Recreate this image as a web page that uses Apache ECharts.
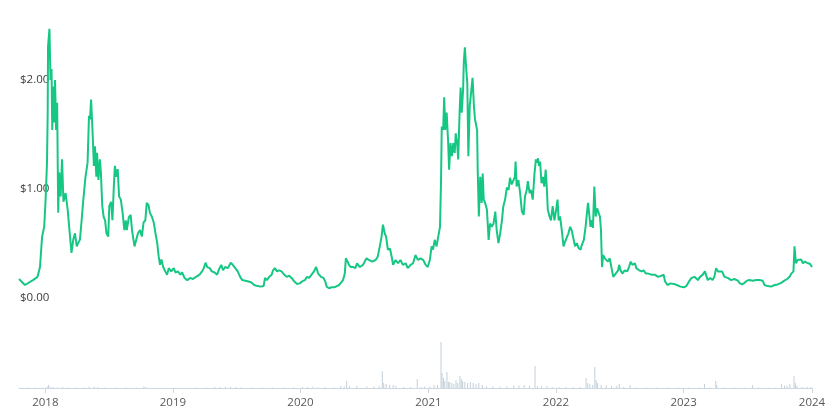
<!DOCTYPE html>
<html>
<head>
<meta charset="utf-8">
<script src="https://cdn.jsdelivr.net/npm/echarts@6/dist/echarts.min.js"></script>
<style>html,body{margin:0;padding:0;background:#fff}#c{width:833px;height:418px}</style>
</head>
<body>
<div id="c"></div>
<script>
// Price: [days since 2018-01-01, USD]
const price2018 = [[-74,0.17],[-57,0.115],[-34,0.16],[-21,0.19],[-14,0.28],[-8,0.56],[-2,0.65],[2,0.90],[6,1.24],[8,1.70],[9,2.31],[13,2.47],[16,2.00],[19,2.10],[21,1.54],[24,1.94],[27,1.61],[29,2.00],[32,1.54],[35,1.79],[38,0.78],[41,1.15],[45,0.93],[49,1.27],[53,0.88],[59,0.96],[65,0.81],[71,0.59],[76,0.41],[81,0.53],[86,0.59],[91,0.47],[95,0.50],[100,0.53],[105,0.71],[109,0.87],[116,1.11],[122,1.24],[126,1.67],[129,1.64],[132,1.82],[136,1.54],[140,1.21],[143,1.39],[147,1.11],[149,1.33],[153,1.08],[157,1.27],[160,1.15],[164,0.84],[168,0.74],[172,0.71],[176,0.59],[181,0.56],[184,0.84],[189,0.88],[193,0.71],[197,1.02],[200,1.21],[204,1.11],[208,1.18],[212,0.93],[217,0.90],[222,0.78],[227,0.62],[231,0.71],[234,0.62],[240,0.74],[245,0.76],[249,0.62],[256,0.47],[261,0.47],[266,0.59],[272,0.62],[277,0.56],[282,0.69],[287,0.71],[291,0.87],[296,0.85],[300,0.78],[306,0.74],[311,0.69],[316,0.59],[321,0.50],[325,0.38],[329,0.30],[333,0.35],[338,0.28],[344,0.24],[349,0.21],[354,0.27],[361,0.24]];
const price2019_20 = [[368,0.27],[373,0.23],[380,0.24],[387,0.21],[392,0.23],[399,0.18],[407,0.16],[415,0.18],[423,0.17],[432,0.19],[442,0.21],[449,0.24],[454,0.27],[459,0.32],[464,0.28],[471,0.27],[477,0.24],[485,0.23],[492,0.21],[499,0.27],[504,0.30],[509,0.25],[515,0.28],[523,0.27],[531,0.32],[537,0.30],[544,0.27],[551,0.24],[558,0.19],[564,0.16],[569,0.16],[579,0.15],[589,0.14],[598,0.115],[608,0.105],[617,0.10],[625,0.105],[629,0.18],[634,0.16],[641,0.19],[648,0.21],[652,0.25],[657,0.27],[663,0.24],[669,0.25],[676,0.24],[684,0.21],[691,0.19],[698,0.20],[705,0.18],[712,0.15],[720,0.125],[728,0.13],[736,0.15],[743,0.16],[749,0.19],[755,0.18],[762,0.21],[769,0.24],[775,0.28],[781,0.22],[789,0.19],[796,0.18],[801,0.15],[805,0.10],[812,0.085],[819,0.094],[827,0.094],[834,0.105],[841,0.115],[846,0.13],[852,0.16],[857,0.22],[860,0.36],[865,0.33],[869,0.30],[874,0.28],[881,0.28],[887,0.27],[892,0.315],[900,0.28],[909,0.30],[919,0.36],[926,0.345],[935,0.33],[945,0.345],[951,0.375],[957,0.47],[962,0.56],[966,0.67],[971,0.59],[975,0.56],[980,0.44],[986,0.45],[991,0.375],[995,0.30],[1002,0.345],[1009,0.315],[1016,0.345],[1023,0.30],[1031,0.315],[1037,0.27],[1045,0.30],[1052,0.315],[1059,0.39],[1066,0.345],[1073,0.36],[1081,0.345],[1088,0.30],[1094,0.28]];
const price2021_22 = [[1100,0.345],[1105,0.47],[1109,0.44],[1114,0.53],[1119,0.47],[1124,0.56],[1129,0.65],[1132,1.08],[1134,1.57],[1138,1.54],[1141,1.84],[1144,1.54],[1148,1.70],[1152,1.45],[1155,1.175],[1159,1.42],[1163,1.30],[1167,1.42],[1171,1.33],[1174,1.51],[1178,1.42],[1181,1.27],[1185,1.70],[1188,1.93],[1191,1.70],[1195,1.91],[1197,2.16],[1200,2.30],[1204,2.10],[1207,1.97],[1210,1.30],[1214,1.76],[1222,2.02],[1226,1.76],[1229,1.64],[1235,1.54],[1237,1.14],[1240,0.745],[1244,1.11],[1248,0.87],[1251,1.14],[1254,0.90],[1258,0.87],[1263,0.81],[1268,0.53],[1272,0.68],[1277,0.65],[1282,0.68],[1287,0.79],[1291,0.62],[1296,0.50],[1301,0.59],[1306,0.71],[1310,0.84],[1315,0.90],[1320,1.01],[1325,0.99],[1329,1.10],[1334,1.04],[1339,1.08],[1343,1.11],[1345,1.25],[1348,1.02],[1353,1.08],[1358,0.96],[1363,0.79],[1368,0.76],[1372,0.93],[1377,0.99],[1380,1.07],[1385,0.96],[1389,0.99],[1394,0.90],[1399,1.14],[1403,1.27],[1406,1.24],[1409,1.28],[1412,1.21],[1415,1.25],[1419,1.05],[1423,1.11],[1427,1.02],[1431,1.175],[1434,1.02],[1437,0.81],[1442,0.745],[1446,0.71],[1451,0.84],[1456,0.71],[1461,0.81],[1465,0.90],[1468,0.71],[1472,0.745],[1477,0.62],[1482,0.47],[1486,0.51],[1491,0.50],[1496,0.59],[1501,0.65],[1506,0.61],[1510,0.545],[1515,0.47],[1520,0.50],[1525,0.455],[1531,0.44],[1533,0.47],[1540,0.53],[1545,0.65],[1549,0.78],[1552,0.87],[1555,0.78],[1559,0.65],[1563,0.71],[1566,0.64],[1570,1.02],[1574,0.745],[1578,0.82],[1582,0.78],[1586,0.745],[1589,0.62],[1592,0.28],[1595,0.39],[1600,0.36],[1605,0.375],[1609,0.33],[1614,0.36],[1619,0.345],[1624,0.19],[1631,0.22],[1638,0.25],[1641,0.30],[1645,0.25],[1650,0.22],[1657,0.25],[1664,0.24],[1669,0.28],[1674,0.33],[1679,0.30],[1686,0.315],[1690,0.27],[1698,0.25],[1705,0.24],[1711,0.25],[1717,0.22],[1724,0.22],[1733,0.21],[1743,0.21],[1752,0.19],[1762,0.20],[1768,0.21],[1772,0.15],[1779,0.115],[1788,0.13],[1797,0.125],[1806,0.115],[1816,0.10]];
const price2023_24 = [[1826,0.094],[1833,0.105],[1841,0.15],[1848,0.18],[1856,0.19],[1859,0.18],[1866,0.16],[1872,0.19],[1880,0.21],[1886,0.24],[1894,0.16],[1901,0.18],[1908,0.16],[1913,0.19],[1918,0.27],[1923,0.24],[1928,0.25],[1935,0.24],[1942,0.19],[1951,0.18],[1961,0.16],[1970,0.17],[1980,0.155],[1986,0.13],[1992,0.12],[1999,0.135],[2006,0.155],[2013,0.16],[2023,0.155],[2032,0.16],[2042,0.16],[2051,0.155],[2056,0.115],[2066,0.105],[2075,0.10],[2085,0.115],[2094,0.12],[2104,0.135],[2113,0.155],[2121,0.17],[2128,0.19],[2133,0.22],[2139,0.24],[2142,0.47],[2146,0.315],[2151,0.345],[2156,0.33],[2161,0.35],[2166,0.315],[2172,0.33],[2180,0.315],[2186,0.31],[2192,0.28]];

// Volume (relative units): [days since 2018-01-01, volume]
const volume2018_20 = [[-70,0.3],[-50,0.4],[-30,0.5],[-10,0.6],[5,1.5],[9,3],[14,1.2],[22,1],[35,0.8],[50,1],[65,0.6],[85,0.5],[110,0.6],[125,1.2],[140,1.5],[150,1],[170,0.5],[200,0.5],[230,0.5],[260,0.4],[282,1.5],[288,1],[310,0.3],[340,0.3],[370,0.3],[400,0.3],[430,0.4],[460,0.4],[485,1],[500,1],[515,1.2],[530,1],[545,1],[560,0.8],[590,0.4],[620,0.4],[650,0.5],[680,0.5],[710,0.5],[735,1],[750,1],[765,1.2],[780,0.8],[800,1],[825,0.5],[845,2],[855,1.5],[862,7],[870,2],[891,2],[920,1.5],[940,1.5],[955,2],[964,16.7],[968,5],[975,4],[985,3],[995,3],[1003,2],[1025,1],[1045,1],[1064,9],[1075,1],[1085,1.5]];
const volume2021_24 = [[1100,1.5],[1112,3],[1122,3],[1132,46],[1135,15],[1139,10],[1143,7],[1149,16],[1153,6],[1157,6],[1163,5],[1169,4],[1175,8],[1180,5],[1186,12],[1190,9],[1194,7],[1200,6],[1208,5],[1216,6],[1224,5],[1232,4],[1240,5],[1250,3],[1262,1.5],[1280,1.5],[1300,1.2],[1320,1.5],[1340,2.5],[1355,2.5],[1370,3],[1385,2.5],[1401,22],[1408,2],[1420,2],[1435,2],[1450,1],[1470,1],[1490,1],[1510,1],[1530,1],[1547,10],[1552,5],[1558,4],[1566,3],[1572,21],[1576,8],[1580,5],[1590,3],[1605,2.5],[1620,2],[1635,2],[1642,4],[1655,1],[1673,3],[1690,0.5],[1720,0.5],[1750,0.5],[1780,0.5],[1810,0.4],[1840,0.5],[1870,0.5],[1886,4],[1900,0.5],[1918,7],[1921,3],[1940,0.5],[1970,0.5],[2000,0.5],[2023,3],[2040,0.5],[2070,0.5],[2090,0.6],[2106,4],[2115,2.5],[2122,2],[2130,4],[2142,12],[2146,5],[2150,2],[2165,1],[2180,1],[2190,1]];

const priceTicks = [0, 1, 2];
const firstDay = -74, lastDay = 2192;

const toTime = d => Date.UTC(2018, 0, 1 + d);
const priceData = [].concat(price2018, price2019_20, price2021_22, price2023_24).map(p => [toTime(p[0]), p[1]]);
const volData = [].concat(volume2018_20, volume2021_24).map(p => [toTime(p[0]), p[1]]);
const yearMs = 365 * 86400000;
const FONT = '"Open Sans", "Noto Sans", sans-serif';

const chart = echarts.init(document.getElementById('c'), null, {renderer: 'canvas'});
chart.setOption({
  useUTC: true,
  animation: false,
  backgroundColor: '#fff',
  grid: [
    {left: 19, right: 21, top: 25.6, height: 271.9},
    {left: 19, right: 21, top: 338, height: 50}
  ],
  xAxis: [
    {type: 'time', gridIndex: 0, min: toTime(firstDay), max: toTime(lastDay), show: false},
    {type: 'time', gridIndex: 1, min: toTime(firstDay), max: toTime(lastDay),
     minInterval: yearMs, maxInterval: 366 * 86400000,
     axisLine: {show: true, lineStyle: {color: '#cfd8e1', width: 1}},
     axisTick: {show: true, length: 5, lineStyle: {color: '#cfd8e1'}},
     splitLine: {show: false},
     axisLabel: {show: true, color: '#58595b', fontSize: 11.5, fontFamily: FONT, margin: 9,
       showMinLabel: false, showMaxLabel: true,
       formatter: v => String(new Date(v).getUTCFullYear())}}
  ],
  yAxis: [
    {type: 'value', gridIndex: 0, min: 0, max: 2.5, interval: 1,
     axisLine: {show: false}, axisTick: {show: false}, splitLine: {show: false},
     axisLabel: {inside: true, margin: 1, color: '#3d3d3d', fontSize: 11.5, fontFamily: FONT,
       showMaxLabel: false,
       formatter: v => priceTicks.indexOf(v) >= 0 ? '$' + v.toFixed(2) : ''}},
    {type: 'value', gridIndex: 1, min: 0, max: 50, show: false}
  ],
  series: [
    {type: 'bar', xAxisIndex: 1, yAxisIndex: 1, data: volData, barWidth: 1,
     itemStyle: {color: '#c3d0da'}, z: 1},
    {type: 'line', xAxisIndex: 0, yAxisIndex: 0, data: priceData, showSymbol: false, symbol: 'none',
     lineStyle: {color: '#16c784', width: 2}, z: 3}
  ]
});
</script>
</body>
</html>
